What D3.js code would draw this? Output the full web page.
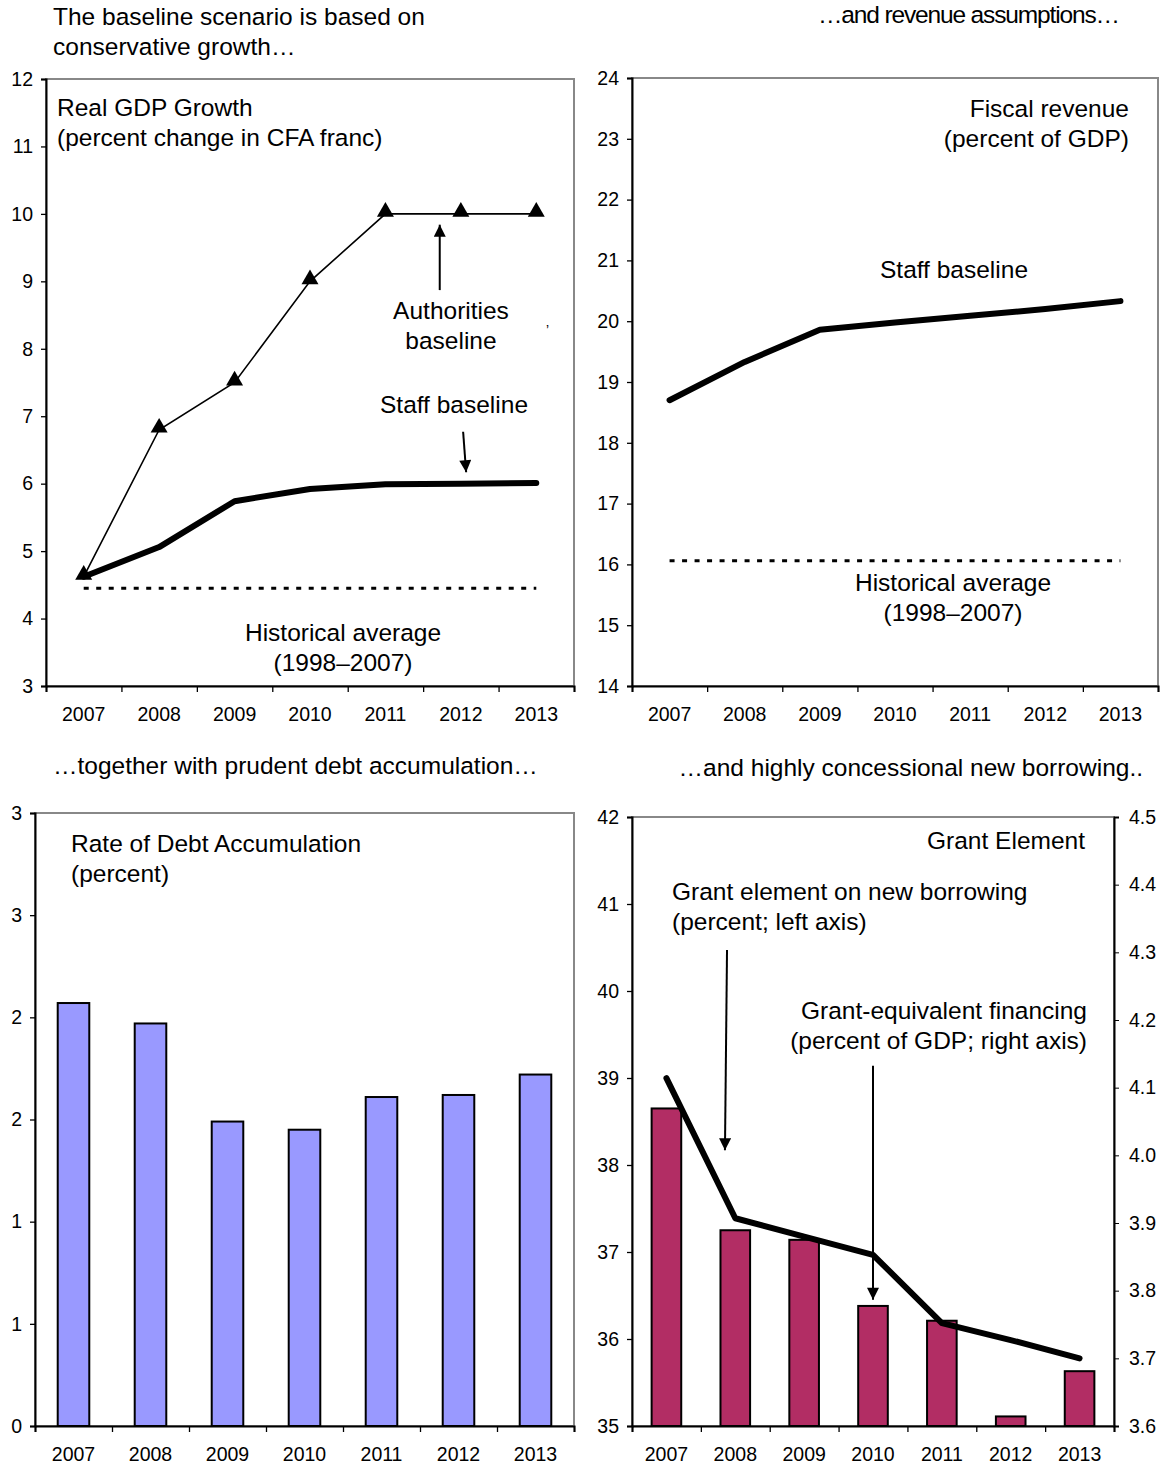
<!DOCTYPE html>
<html>
<head>
<meta charset="utf-8">
<script src="https://cdn.jsdelivr.net/npm/d3@7"></script>
<style>
  body { margin: 0; background: #fff; }
  svg text { font-family: "Liberation Sans", Arial, sans-serif; fill: #000; }
</style>
</head>
<body>
<svg id="chart" width="1168" height="1467"></svg>
<script>
const years = ['2007', '2008', '2009', '2010', '2011', '2012', '2013'];

// Real GDP growth (percent)
const gdpAuthorities = [4.62, 6.8, 7.5, 9.0, 10.0, 10.0, 10.0];
const gdpStaff = [4.62, 5.06, 5.74, 5.92, 5.99, 6.0, 6.01];
const gdpHistAvg = 4.45;
const gdpTicks = [3, 4, 5, 6, 7, 8, 9, 10, 11, 12];

// Fiscal revenue (percent of GDP)
const revStaff = [18.7, 19.33, 19.86, 19.98, 20.09, 20.2, 20.33];
const revHistAvg = 16.06;
const revTicks = [14, 15, 16, 17, 18, 19, 20, 21, 22, 23, 24];

// Rate of debt accumulation (percent)
const debtAccum = [2.07, 1.97, 1.49, 1.45, 1.61, 1.62, 1.72];
const debtTicks = [0, 0.5, 1, 1.5, 2, 2.5, 3];

// Grant element (left, percent) and grant-equivalent financing (right, percent of GDP)
const grantElement = [38.65, 37.25, 37.14, 36.38, 36.21, 35.11, 35.63];
const grantEquiv = [4.114, 3.907, 3.88, 3.853, 3.752, 3.727, 3.70];
const grantTicks = [35, 36, 37, 38, 39, 40, 41, 42];
const grantEquivTicks = [3.6, 3.7, 3.8, 3.9, 4.0, 4.1, 4.2, 4.3, 4.4, 4.5];

const svg = d3.select('#chart');

const defs = svg.append('defs');
defs.append('marker')
  .attr('id', 'head')
  .attr('viewBox', '0 0 10 10')
  .attr('refX', 10).attr('refY', 5)
  .attr('markerUnits', 'userSpaceOnUse')
  .attr('markerWidth', 16).attr('markerHeight', 12)
  .attr('orient', 'auto')
  .append('path').attr('d', 'M0,0L10,5L0,10Z').attr('fill', '#000');

// frame + axes shared by all four panels
const panel = (box, yDomain, yTicks, fmt) => {
  const x = d3.scaleBand().domain(years).range([box.left, box.right]);
  const xi = d3.scaleLinear().domain([-0.5, 6.5]).range([box.left, box.right]);
  const y = d3.scaleLinear().domain(yDomain).range([box.bottom, box.top]);
  const g = svg.append('g');

  g.append('rect')
    .attr('x', box.left).attr('y', box.top)
    .attr('width', box.right - box.left).attr('height', box.bottom - box.top)
    .attr('fill', 'none').attr('stroke', '#888').attr('stroke-width', 2);

  const ya = g.append('g')
    .attr('transform', `translate(${box.left},0)`)
    .call(d3.axisLeft(y).tickValues(yTicks).tickSize(5).tickPadding(8).tickFormat(fmt));
  const xa = g.append('g')
    .attr('transform', `translate(0,${box.bottom})`)
    .call(d3.axisBottom(x).tickSize(0).tickPadding(21));
  const xb = g.append('g')
    .attr('transform', `translate(0,${box.bottom})`)
    .call(d3.axisBottom(d3.scaleLinear().domain([0, 7]).range([box.left, box.right]))
      .ticks(7).tickSize(6).tickFormat(''));
  [ya, xa, xb].forEach(a => {
    a.selectAll('text').attr('font-size', 19.5).attr('font-family', null);
    a.select('.domain').attr('stroke-width', 2);
    a.selectAll('.tick line').attr('stroke-width', 1.3);
  });
  xa.select('.domain').remove();
  return { g, x, xi, y };
};

const label = (g, lines, x, y, anchor, len) => {
  lines.forEach((t, i) => {
    const el = g.append('text').attr('x', x).attr('y', y + i * 30)
      .attr('font-size', 24.5).attr('text-anchor', anchor || 'start').text(t);
    if (len) el.attr('textLength', len).attr('lengthAdjust', 'spacing');
  });
};

const arrow = (g, x1, y1, x2, y2) => {
  g.append('line')
    .attr('x1', x1).attr('y1', y1).attr('x2', x2).attr('y2', y2)
    .attr('stroke', '#000').attr('stroke-width', 2)
    .attr('marker-end', 'url(#head)');
};

// ---- Panel 1: Real GDP growth
{
  const { g, x, xi, y } = panel({ left: 46, right: 574, top: 79, bottom: 686 },
    [3, 12], gdpTicks, d3.format('d'));
  const cx = (d, i) => x(years[i]) + x.bandwidth() / 2;

  g.append('line')
    .attr('x1', cx(0, 0)).attr('x2', cx(0, 6))
    .attr('y1', y(gdpHistAvg)).attr('y2', y(gdpHistAvg))
    .attr('stroke', '#000').attr('stroke-width', 3).attr('stroke-dasharray', '5,7.5');

  g.append('path')
    .datum(gdpAuthorities)
    .attr('d', d3.line().x(cx).y(d => y(d)))
    .attr('fill', 'none').attr('stroke', '#000').attr('stroke-width', 1.6);
  g.selectAll('.tri')
    .data(gdpAuthorities)
    .join('path')
    .attr('transform', (d, i) => `translate(${cx(d, i)},${y(d) - 2})`)
    .attr('d', d3.symbol(d3.symbolTriangle, 125));

  g.append('path')
    .datum(gdpStaff)
    .attr('d', d3.line().x(cx).y(d => y(d)))
    .attr('fill', 'none').attr('stroke', '#000').attr('stroke-width', 6)
    .attr('stroke-linejoin', 'round').attr('stroke-linecap', 'round');

  label(g, ['The baseline scenario is based on', 'conservative growth…'], 53, 25);
  label(g, ['Real GDP Growth', '(percent change in CFA franc)'], 57, 116);
  label(g, ['Authorities', 'baseline'], 451, 319, 'middle');
  label(g, ['Staff baseline'], 454, 413, 'middle');
  label(g, ['Historical average', '(1998–2007)'], 343, 641, 'middle');
  arrow(g, xi(4.72), y(8.87), xi(4.72), y(9.84));
  arrow(g, xi(5.03), y(6.77), xi(5.07), y(6.17));
  g.append('text').attr('x', 546).attr('y', 336).attr('font-size', 14).text('ʼ');
}

// ---- Panel 2: Fiscal revenue
{
  const { g, x, y } = panel({ left: 632, right: 1158, top: 78, bottom: 686 },
    [14, 24], revTicks, d3.format('d'));
  const cx = (d, i) => x(years[i]) + x.bandwidth() / 2;

  g.append('line')
    .attr('x1', cx(0, 0)).attr('x2', cx(0, 6))
    .attr('y1', y(revHistAvg)).attr('y2', y(revHistAvg))
    .attr('stroke', '#000').attr('stroke-width', 3).attr('stroke-dasharray', '5,7.5');

  g.append('path')
    .datum(revStaff)
    .attr('d', d3.line().x(cx).y(d => y(d)))
    .attr('fill', 'none').attr('stroke', '#000').attr('stroke-width', 6)
    .attr('stroke-linejoin', 'round').attr('stroke-linecap', 'round');

  label(g, ['…and revenue assumptions…'], 1120, 23, 'end', 302);
  label(g, ['Fiscal revenue', '(percent of GDP)'], 1129, 117, 'end');
  label(g, ['Staff baseline'], 954, 278, 'middle');
  label(g, ['Historical average', '(1998–2007)'], 953, 591, 'middle');
}

// ---- Panel 3: Rate of debt accumulation
{
  const { g, x, y } = panel({ left: 35, right: 574, top: 813, bottom: 1426 },
    [0, 3], debtTicks, d => Math.round(d).toString());
  const bw = x.bandwidth() * 0.41;

  g.selectAll('.bar')
    .data(debtAccum)
    .join('rect')
    .attr('x', (d, i) => x(years[i]) + (x.bandwidth() - bw) / 2)
    .attr('y', d => y(d))
    .attr('width', bw)
    .attr('height', d => y(0) - y(d))
    .attr('fill', '#9999ff').attr('stroke', '#000').attr('stroke-width', 2);

  label(g, ['…together with prudent debt accumulation…'], 53, 774);
  label(g, ['Rate of Debt Accumulation', '(percent)'], 71, 852);
}

// ---- Panel 4: Grant element
{
  const box = { left: 632, right: 1114, top: 817, bottom: 1426 };
  const { g, x, xi, y } = panel(box, [35, 42], grantTicks, d3.format('d'));
  const y2 = d3.scaleLinear().domain([3.6, 4.5]).range([box.bottom, box.top]);
  const cx = (d, i) => x(years[i]) + x.bandwidth() / 2;
  const bw = x.bandwidth() * 0.43;

  g.selectAll('.bar')
    .data(grantElement)
    .join('rect')
    .attr('x', (d, i) => x(years[i]) + (x.bandwidth() - bw) / 2)
    .attr('y', d => y(d))
    .attr('width', bw)
    .attr('height', d => y(35) - y(d))
    .attr('fill', '#b22d64').attr('stroke', '#000').attr('stroke-width', 2);

  const ra = g.append('g')
    .attr('transform', `translate(${box.right},0)`)
    .call(d3.axisRight(y2).tickValues(grantEquivTicks).tickSize(5).tickPadding(10)
      .tickFormat(d3.format('.1f')));
  ra.selectAll('text').attr('font-size', 19.5).attr('font-family', null);
  ra.select('.domain').attr('stroke-width', 2);

  g.append('path')
    .datum(grantEquiv)
    .attr('d', d3.line().x(cx).y(d => y2(d)))
    .attr('fill', 'none').attr('stroke', '#000').attr('stroke-width', 6)
    .attr('stroke-linejoin', 'round').attr('stroke-linecap', 'round');

  label(g, ['…and highly concessional new borrowing..'], 1143, 776, 'end');
  label(g, ['Grant Element'], 1085, 849, 'end');
  label(g, ['Grant element on new borrowing', '(percent; left axis)'], 672, 900);
  label(g, ['Grant-equivalent financing', '(percent of GDP; right axis)'], 1087, 1019, 'end');
  arrow(g, xi(0.88), y(40.47), xi(0.85), y(38.17));
  arrow(g, xi(3.0), y(39.14), xi(3.0), y(36.45));
}
</script>
</body>
</html>
